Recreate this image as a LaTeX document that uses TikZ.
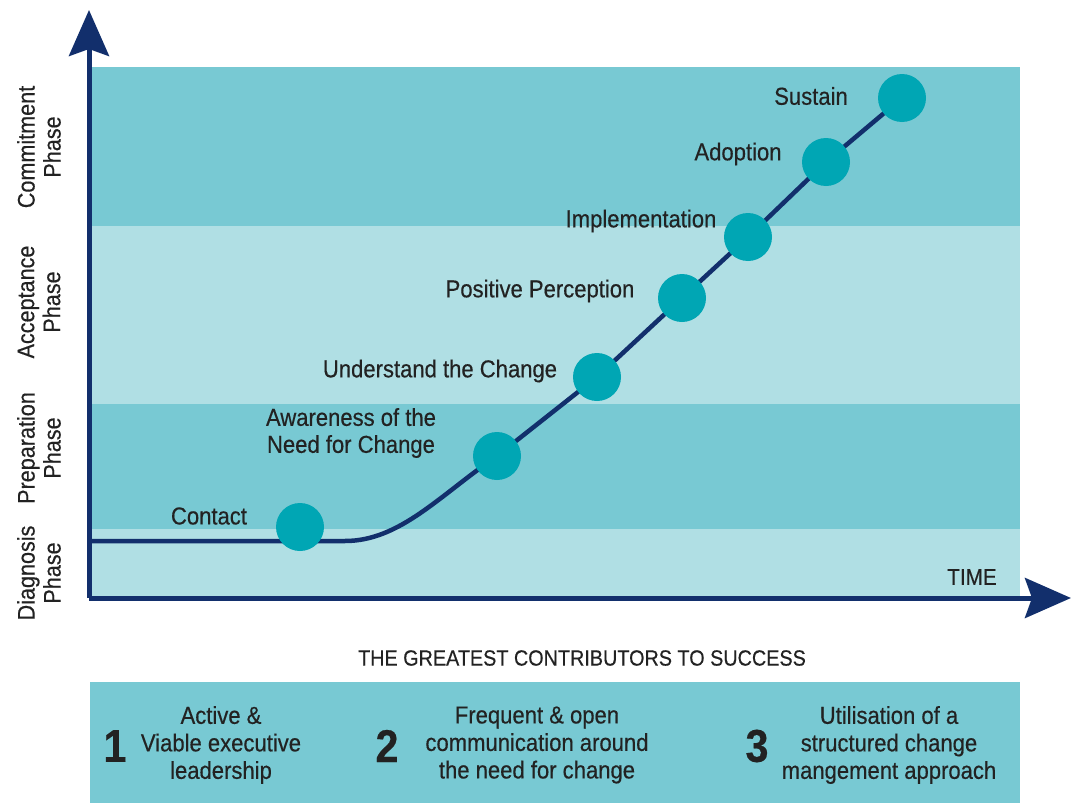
\documentclass[tikz,border=0pt]{standalone}
\usepackage{fontspec}
\setmainfont[FakeStretch=0.9,FakeBold=0.4]{Liberation Sans}
\usetikzlibrary{arrows.meta,positioning}

\definecolor{navy}{HTML}{122F6C}
\definecolor{banddark}{HTML}{78C9D3}
\definecolor{bandlight}{HTML}{B0DFE4}
\definecolor{dot}{HTML}{00A6B4}
\definecolor{ink}{HTML}{222222}

\tikzset{
  axis/.style={navy, line width=5pt, -{Stealth[length=46pt,width=40pt,inset=7pt]}},
  stage/.style={circle, fill=dot, minimum size=48pt, inner sep=0pt},
  stagelabel/.style={text=ink, align=center, font=\fontsize{24.5}{27}\selectfont},
  phase/.style={text=ink, align=center, rotate=90, font=\fontsize{24}{26}\selectfont},
  item/.style={text=ink, align=center, font=\fontsize{24.5}{27.5}\selectfont},
  itemnum/.style={text=ink, font=\fontsize{46}{46}\selectfont\bfseries}
}

\begin{document}
\begin{tikzpicture}[x=1pt, y=-1pt]
\useasboundingbox (0,0) rectangle (1072,803);

% phase bands
\fill[banddark]  (89,67)  rectangle (1020,226);
\fill[bandlight] (89,226) rectangle (1020,404);
\fill[banddark]  (89,404) rectangle (1020,529);
\fill[bandlight] (89,529) rectangle (1020,598);

% axes
\coordinate (origin) at (89,598);
\coordinate (ytop) at (89,10);
\coordinate (xend) at (1071,598);
\draw[axis] (origin) -- (ytop);
\draw[axis] (origin) -- (xend);

% curve first, circles on top
\coordinate (start) at (89,541);
\coordinate (bend) at (345,541);
\coordinate (p2) at (497,456);
\coordinate (p3) at (597,377);
\coordinate (p4) at (682,298);
\coordinate (p5) at (748,237);
\coordinate (p6) at (826,162);
\coordinate (p7) at (902,98);
\draw[navy, line width=4.5pt, line join=round]
  (start) -- (bend) .. controls (400,541) and (440,495) .. (p2)
  -- (p3) -- (p4) -- (p5) -- (p6) -- (p7);

\node[stage] (c1) at (300,527) {};
\node[stage] (c2) at (p2) {};
\node[stage] (c3) at (p3) {};
\node[stage] (c4) at (p4) {};
\node[stage] (c5) at (p5) {};
\node[stage] (c6) at (p6) {};
\node[stage] (c7) at (p7) {};

\node[stagelabel] (contact) at (209,516) {Contact};
\node[stagelabel] (aware) at (351,433) {Awareness of the\\Need for Change};
\node[stagelabel] (under) at (440,371) {Understand the Change};
\node[stagelabel] (posit) at (540,291) {Positive Perception};
\node[stagelabel] (impl) at (641,221) {Implementation};
\node[stagelabel] (adopt) at (738,154) {Adoption};
\node[stagelabel] (sust) at (811,96) {Sustain};
\node[stagelabel, font=\fontsize{23}{25}\selectfont] (time) at (972,577) {TIME};

% phase names
\node[phase] (commit) at (39,147) {Commitment\\Phase};
\node[phase] (accept) at (39,302) {Acceptance\\Phase};
\node[phase] (prep) at (39,448) {Preparation\\Phase};
\node[phase] (diag) at (39,573) {Diagnosis\\Phase};

% contributors
\node[text=ink, font=\fontsize{22}{24}\selectfont] (title) at (582,658) {THE GREATEST CONTRIBUTORS TO SUCCESS};
\fill[banddark] (90,682) rectangle (1020,803);
\node[itemnum] (n1) at (115,746) {1};
\node[item] (t1) at (221,745) {Active \&\\Viable executive\\leadership};
\node[itemnum] (n2) at (387,746) {2};
\node[item] (t2) at (537,745) {Frequent \& open\\communication around\\the need for change};
\node[itemnum] (n3) at (757,746) {3};
\node[item] (t3) at (889,745) {Utilisation of a\\structured change\\mangement approach};
\end{tikzpicture}
\end{document}
